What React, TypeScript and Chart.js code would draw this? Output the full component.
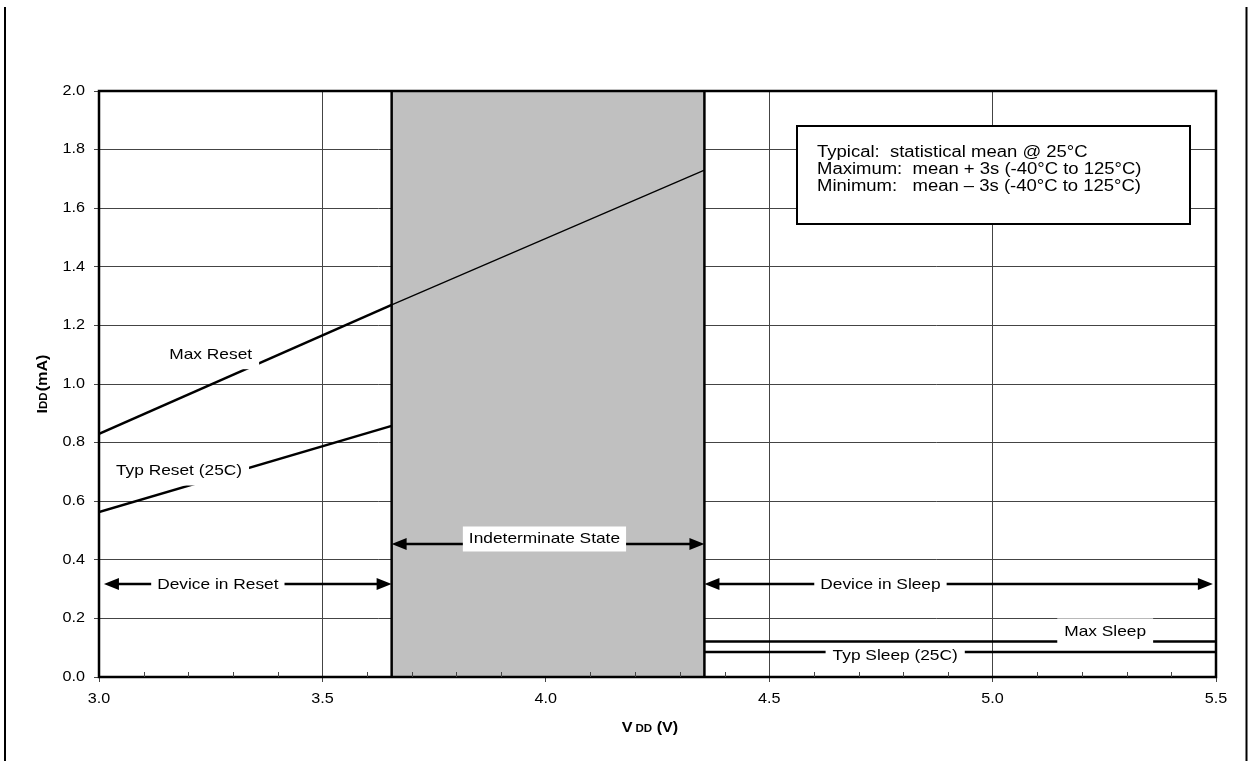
import React, { useEffect, useRef } from "react";
import { Chart, registerables } from "chart.js";

Chart.register(...registerables);

// ---- Data ----
const xTickValues = [3.0, 3.5, 4.0, 4.5, 5.0, 5.5];
const xTickLabels = ["3.0", "3.5", "4.0", "4.5", "5.0", "5.5"];
const xMinorTicks = [3.1, 3.2, 3.3, 3.4, 3.6, 3.7, 3.8, 3.9, 4.1, 4.2, 4.3, 4.4, 4.6, 4.7, 4.8, 4.9, 5.1, 5.2, 5.3, 5.4];
const yTickValues = [0.0, 0.2, 0.4, 0.6, 0.8, 1.0, 1.2, 1.4, 1.6, 1.8, 2.0];
const yTickLabels = ["0.0", "0.2", "0.4", "0.6", "0.8", "1.0", "1.2", "1.4", "1.6", "1.8", "2.0"];

const maxResetV = [3.0, 3.655];
const maxResetI = [0.83, 1.27];
const maxResetExtV = [3.655, 4.355];
const maxResetExtI = [1.27, 1.73];
const typResetV = [3.0, 3.655];
const typResetI = [0.563, 0.857];
const maxSleepV = [4.355, 5.5];
const maxSleepI = [0.121, 0.121];
const typSleepV = [4.355, 5.5];
const typSleepI = [0.085, 0.085];

const indeterminateRange = [3.655, 4.355];

const curveLabels = ["Max Reset", "Typ Reset (25C)", "Max Sleep", "Typ Sleep (25C)"];
const curveLabelV = [3.25, 3.179, 5.252, 4.782];
const curveLabelI = [1.1, 0.703, 0.154, 0.072];

const regionLabels = ["Device in Reset", "Indeterminate State", "Device in Sleep"];
const regionFromV = [3.011, 3.655, 4.355];
const regionToV = [3.655, 4.355, 5.493];
const regionArrowI = [0.317, 0.454, 0.317];
const regionLabelV = [3.266, 3.997, 4.749];
const regionLabelI = [0.314, 0.471, 0.314];

const legendLines = [
  "Typical:  statistical mean @ 25°C",
  "Maximum:  mean + 3s (-40°C to 125°C)",
  "Minimum:   mean – 3s (-40°C to 125°C)",
];

// styles (not data)
const curveLabelPadY = [7, 7, 6, 3];
const FONT = 'Arial, "Liberation Sans", sans-serif';
const SX = 1.155;

function zip(xs: number[], ys: number[]) {
  return xs.map((x, i) => ({ x, y: ys[i] }));
}

function drawText(
  ctx: CanvasRenderingContext2D,
  text: string,
  x: number,
  y: number,
  size: number,
  align: "left" | "center" | "right" = "left",
  bold = false
) {
  ctx.save();
  ctx.font = `${bold ? "bold " : ""}${size}px ${FONT}`;
  ctx.textBaseline = "middle";
  ctx.textAlign = "left";
  const w = ctx.measureText(text).width * SX;
  const left = align === "center" ? x - w / 2 : align === "right" ? x - w : x;
  ctx.translate(left, y);
  ctx.scale(SX, 1);
  ctx.fillStyle = "#000";
  ctx.fillText(text, 0, 0);
  ctx.restore();
  return w;
}

function measure(ctx: CanvasRenderingContext2D, text: string, size: number, bold = false) {
  ctx.save();
  ctx.font = `${bold ? "bold " : ""}${size}px ${FONT}`;
  const w = ctx.measureText(text).width * SX;
  ctx.restore();
  return w;
}

function drawRich(
  ctx: CanvasRenderingContext2D,
  parts: { t: string; s: number; gap?: number }[],
  cx: number,
  baseY: number
) {
  ctx.save();
  let total = 0;
  for (const p of parts) total += measure(ctx, p.t, p.s, true) + (p.gap || 0);
  let x = cx - total / 2;
  for (const p of parts) {
    ctx.save();
    ctx.font = `bold ${p.s}px ${FONT}`;
    ctx.textBaseline = "alphabetic";
    ctx.textAlign = "left";
    ctx.translate(x, baseY);
    ctx.scale(SX, 1);
    ctx.fillStyle = "#000";
    ctx.fillText(p.t, 0, 0);
    ctx.restore();
    x += measure(ctx, p.t, p.s, true) + (p.gap || 0);
  }
  ctx.restore();
}

function labelBox(ctx: CanvasRenderingContext2D, text: string, cx: number, cy: number, size: number, padX: number, padY: number) {
  const w = measure(ctx, text, size);
  ctx.save();
  ctx.fillStyle = "#fff";
  ctx.fillRect(cx - w / 2 - padX, cy - size / 2 - padY, w + 2 * padX, size + 2 * padY);
  ctx.restore();
  drawText(ctx, text, cx, cy, size, "center");
}

function arrow(ctx: CanvasRenderingContext2D, x1: number, x2: number, y: number) {
  const L = 15;
  const H = 6;
  ctx.save();
  ctx.strokeStyle = "#000";
  ctx.fillStyle = "#000";
  ctx.lineWidth = 2.5;
  ctx.beginPath();
  ctx.moveTo(x1 + L - 1, y);
  ctx.lineTo(x2 - L + 1, y);
  ctx.stroke();
  ctx.beginPath();
  ctx.moveTo(x1, y);
  ctx.lineTo(x1 + L, y - H);
  ctx.lineTo(x1 + L, y + H);
  ctx.closePath();
  ctx.fill();
  ctx.beginPath();
  ctx.moveTo(x2, y);
  ctx.lineTo(x2 - L, y - H);
  ctx.lineTo(x2 - L, y + H);
  ctx.closePath();
  ctx.fill();
  ctx.restore();
}

const decorPlugin = {
  id: "decor",
  beforeDatasetsDraw(chart: any) {
    const { ctx, chartArea, scales } = chart;
    const x = scales.x;
    const xa = x.getPixelForValue(indeterminateRange[0]);
    const xb = x.getPixelForValue(indeterminateRange[1]);
    ctx.save();
    ctx.fillStyle = "#c0c0c0";
    ctx.fillRect(xa, chartArea.top, xb - xa, chartArea.bottom - chartArea.top);
    ctx.restore();
  },
  afterDatasetsDraw(chart: any) {
    const { ctx, chartArea, scales } = chart;
    const x = scales.x;
    const y = scales.y;
    ctx.save();
    ctx.strokeStyle = "#000";
    ctx.lineWidth = 2.5;
    for (const v of indeterminateRange) {
      const px = x.getPixelForValue(v);
      ctx.beginPath();
      ctx.moveTo(px, chartArea.top);
      ctx.lineTo(px, chartArea.bottom);
      ctx.stroke();
    }
    ctx.restore();

    curveLabels.forEach((t, i) => {
      labelBox(ctx, t, x.getPixelForValue(curveLabelV[i]), y.getPixelForValue(curveLabelI[i]), 15, 7, curveLabelPadY[i]);
    });

    regionLabels.forEach((t, i) => {
      arrow(ctx, x.getPixelForValue(regionFromV[i]), x.getPixelForValue(regionToV[i]), y.getPixelForValue(regionArrowI[i]));
      labelBox(ctx, t, x.getPixelForValue(regionLabelV[i]), y.getPixelForValue(regionLabelI[i]), 15, 6, 5);
    });

    ctx.save();
    ctx.fillStyle = "#fff";
    ctx.fillRect(797, 126, 393, 98);
    ctx.strokeStyle = "#000";
    ctx.lineWidth = 2;
    ctx.strokeRect(797, 126, 393, 98);
    ctx.restore();
    legendLines.forEach((t, i) => drawText(ctx, t, 817, 153 + i * 17, 16, "left"));
  },
  afterDraw(chart: any) {
    const { ctx, chartArea, scales } = chart;
    const x = scales.x;
    const y = scales.y;
    ctx.save();
    ctx.strokeStyle = "#000";
    ctx.lineWidth = 2.5;
    ctx.strokeRect(chartArea.left, chartArea.top, chartArea.right - chartArea.left, chartArea.bottom - chartArea.top);
    ctx.lineWidth = 1;
    ctx.strokeStyle = "#444";
    for (const v of xMinorTicks) {
      const px = Math.round(x.getPixelForValue(v)) + 0.5;
      ctx.beginPath();
      ctx.moveTo(px, chartArea.bottom - 5);
      ctx.lineTo(px, chartArea.bottom);
      ctx.stroke();
    }
    ctx.strokeStyle = "#000";
    ctx.lineWidth = 2;
    ctx.beginPath();
    ctx.moveTo(5, 7);
    ctx.lineTo(5, 761);
    ctx.moveTo(1246.5, 7);
    ctx.lineTo(1246.5, 761);
    ctx.stroke();
    ctx.restore();

    xTickValues.forEach((v, i) => drawText(ctx, xTickLabels[i], x.getPixelForValue(v), chartArea.bottom + 22, 14, "center"));
    yTickValues.forEach((v, i) => drawText(ctx, yTickLabels[i], chartArea.left - 14, y.getPixelForValue(v), 14, "right"));

    drawRich(
      ctx,
      [
        { t: "V", s: 14, gap: 3 },
        { t: "DD", s: 10, gap: 0 },
        { t: " (V)", s: 14 },
      ],
      650,
      732
    );
    ctx.save();
    ctx.translate(47, (chartArea.top + chartArea.bottom) / 2);
    ctx.rotate(-Math.PI / 2);
    drawRich(
      ctx,
      [
        { t: "I", s: 14, gap: 0 },
        { t: "DD", s: 10, gap: 1 },
        { t: "(mA)", s: 14 },
      ],
      0,
      0
    );
    ctx.restore();
  },
};

export default function App() {
  const ref = useRef<HTMLCanvasElement | null>(null);
  useEffect(() => {
    document.body.style.margin = "0";
    const canvas = ref.current;
    if (!canvas) return;
    const lineDs = (data: any[], w: number) => ({
      data,
      borderColor: "#000",
      borderWidth: w,
      pointRadius: 0,
      tension: 0,
      fill: false,
    });
    const chart = new Chart(canvas, {
      type: "line",
      data: {
        datasets: [
          lineDs(zip(maxResetV, maxResetI), 2.5),
          lineDs(zip(maxResetExtV, maxResetExtI), 1.3),
          lineDs(zip(typResetV, typResetI), 2.5),
          lineDs(zip(maxSleepV, maxSleepI), 2.5),
          lineDs(zip(typSleepV, typSleepI), 2.5),
        ],
      },
      options: {
        responsive: false,
        animation: false,
        devicePixelRatio: 1,
        layout: { padding: { left: 9, top: 91, right: 32, bottom: 0 } },
        plugins: { legend: { display: false }, tooltip: { enabled: false } },
        scales: {
          x: {
            type: "linear",
            min: 3.0,
            max: 5.5,
            afterBuildTicks: (s: any) => {
              s.ticks = xTickValues.map((v) => ({ value: v }));
            },
            afterFit: (s: any) => {
              s.height = 84;
            },
            ticks: { color: "rgba(0,0,0,0)", font: { size: 8 } },
            grid: { color: "#444", lineWidth: 1, tickLength: 5 },
            border: { display: false },
          },
          y: {
            type: "linear",
            min: 0,
            max: 2.0,
            afterBuildTicks: (s: any) => {
              s.ticks = yTickValues.map((v) => ({ value: v }));
            },
            afterFit: (s: any) => {
              s.width = 90;
            },
            ticks: { color: "rgba(0,0,0,0)", font: { size: 8 } },
            grid: { color: "#444", lineWidth: 1, tickLength: 5 },
            border: { display: false },
          },
        },
      },
      plugins: [decorPlugin],
    });
    return () => chart.destroy();
  }, []);
  return (
    <div style={{ position: "absolute", left: 0, top: 0, width: 1248, height: 761, background: "#fff" }}>
      <canvas ref={ref} width={1248} height={761} style={{ display: "block" }} />
    </div>
  );
}
